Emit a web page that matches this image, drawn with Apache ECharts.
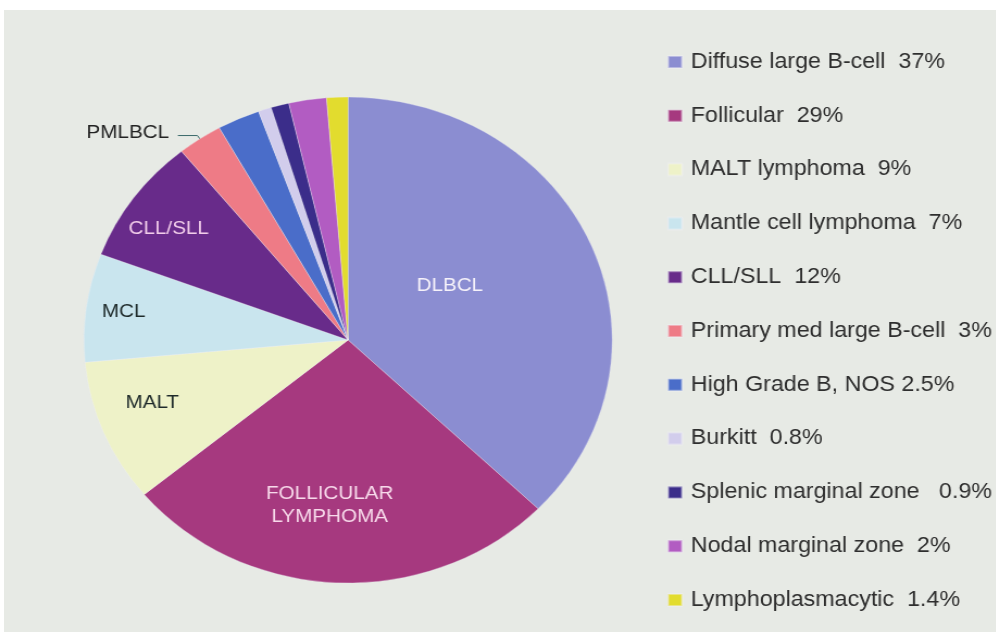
<!DOCTYPE html>
<html>
<head>
<meta charset="utf-8">
<script src="https://cdn.jsdelivr.net/npm/echarts@6/dist/echarts.min.js"></script>
<style>
html,body{margin:0;padding:0;background:#ffffff;width:996px;height:632px;overflow:hidden;}
#bg{position:absolute;left:4px;top:10px;width:992px;height:622px;background:#e7eae5;}
#chart{position:absolute;left:0;top:0;width:917px;height:632px;transform:scaleX(1.087);transform-origin:0 0;}
</style>
</head>
<body>
<div id="bg"></div>
<div id="chart"></div>
<script>
// ---- data ----
var legendLabels = [
  'Diffuse large B-cell  37%',
  'Follicular  29%',
  'MALT lymphoma  9%',
  'Mantle cell lymphoma  7%',
  'CLL/SLL  12%',
  'Primary med large B-cell  3%',
  'High Grade B, NOS 2.5%',
  'Burkitt  0.8%',
  'Splenic marginal zone   0.9%',
  'Nodal marginal zone  2%',
  'Lymphoplasmacytic  1.4%'
];
var sliceLabels = ['DLBCL', 'FOLLICULAR\nLYMPHOMA', 'MALT', 'MCL', 'CLL/SLL', 'PMLBCL', '', '', '', '', ''];
var sliceValues = [37.2, 26.8, 9.5, 7.2, 8.4, 2.75, 2.6, 0.8, 1.1, 2.3, 1.3];

// ---- styles ----
var colors = ['#8b8dd1', '#a6397f', '#eef2c8', '#c9e5ee', '#682b8a', '#ee7b86', '#4a6dc9', '#d2cdec', '#3b2d8a', '#b25cc2', '#e2dc2e'];
var labelColors = ['#f6f2fa', '#f7d9ea', '#1e2a2a', '#1e2a2a', '#f2cdea', '#222', '', '', '', '', ''];
var labelAligns = ['center', 'left', 'center', 'center', 'center', 'center', 'center', 'center', 'center', 'center', 'center'];
var labelOffsets = [[-21, -6], [-12, 41], [-65, 15], [-83, -12], [-64, -38], [0, 0], [0,0],[0,0],[0,0],[0,0],[0,0]];

var data = sliceValues.map(function (v, i) {
  var item = {
    name: legendLabels[i],
    value: v,
    itemStyle: { color: colors[i] },
    label: {
      show: sliceLabels[i] !== '',
      position: 'inside',
      color: labelColors[i],
      align: labelAligns[i],
      offset: labelOffsets[i]
    },
    labelLine: { show: false }
  };
  if (i === 5) {
    item.label = { show: true, position: 'outside', color: '#222', alignTo: 'none', offset: [-3, -3] };
    item.labelLine = { show: true, length: 4, length2: 18, lineStyle: { color: '#3a6a6a', width: 1 } };
  }
  return item;
});

var chart = echarts.init(document.getElementById('chart'), null, { renderer: 'canvas' });
chart.setOption({
  animation: false,
  backgroundColor: 'transparent',
  textStyle: { fontFamily: 'Liberation Sans, Arial, sans-serif' },
  legend: {
    orient: 'vertical',
    left: 613.6,
    top: 50,
    icon: 'rect',
    itemWidth: 12.9,
    itemHeight: 12,
    itemGap: 29.8,
    padding: 0,
    textStyle: { fontSize: 21.4, color: '#2e2e2e', lineHeight: 24, padding: [0, 0, 0, 3] },
    data: legendLabels,
    selectedMode: false
  },
  series: [{
    type: 'pie',
    center: [320.2, 340],
    radius: 243,
    startAngle: 90,
    clockwise: true,
    avoidLabelOverlap: false,
    itemStyle: { borderColor: 'rgba(240,240,245,0.45)', borderWidth: 0.7 },
    label: {
      fontSize: 19,
      lineHeight: 23,
      fontFamily: 'Liberation Sans, Arial, sans-serif',
      formatter: function (p) { return sliceLabels[p.dataIndex]; }
    },
    emphasis: { disabled: true },
    data: data
  }]
});
</script>
</body>
</html>
